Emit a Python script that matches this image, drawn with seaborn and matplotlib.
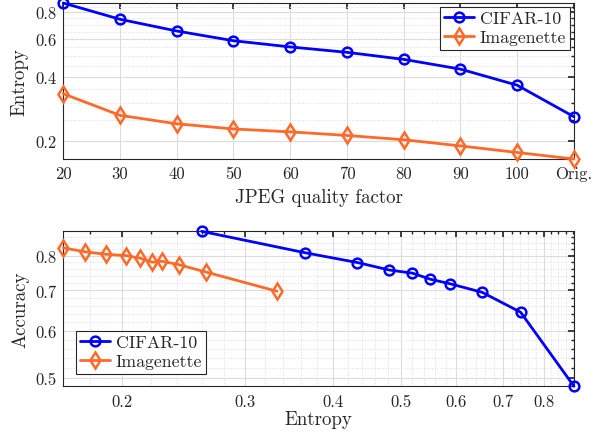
import numpy as np
import pandas as pd
import matplotlib
matplotlib.use("Agg")
import matplotlib.pyplot as plt
import seaborn as sns
from matplotlib.ticker import FixedLocator, NullFormatter, FuncFormatter

# ---- data ----
quality_labels = ["20", "30", "40", "50", "60", "70", "80", "90", "100", "Orig."]
cifar_entropy = [0.884, 0.742, 0.654, 0.589, 0.551, 0.520, 0.482, 0.434, 0.365, 0.260]
imnet_entropy = [0.333, 0.264, 0.241, 0.228, 0.221, 0.2126, 0.203, 0.190, 0.177, 0.165]
cifar_acc = [0.485, 0.644, 0.695, 0.718, 0.731, 0.748, 0.757, 0.779, 0.809, 0.878]
imnet_acc = [0.698, 0.751, 0.773, 0.783, 0.780, 0.792, 0.800, 0.804, 0.812, 0.824]

sns.set_theme(style="white")
plt.rcParams["font.family"] = ["cmr10", "DejaVu Serif"]
plt.rcParams["mathtext.fontset"] = "cm"
plt.rcParams["axes.unicode_minus"] = False
plt.rcParams["axes.formatter.use_mathtext"] = True

DARK = "#262626"
BLUE = "#0000FF"
ORANGE = "#FF6A2A"
GRID = "#dcdcdc"

fig = plt.figure(figsize=(6.08, 4.39), dpi=100)
ax1 = fig.add_axes([0.104, 0.6355, 0.840, 0.3554])
ax2 = fig.add_axes([0.104, 0.1178, 0.840, 0.3530])

qpos = np.arange(len(quality_labels))
df_top = pd.DataFrame({
    "q": np.concatenate([qpos, qpos]),
    "entropy": cifar_entropy + imnet_entropy,
    "ds": ["CIFAR-10"] * len(qpos) + ["Imagenette"] * len(qpos),
})
df_bot = pd.DataFrame({
    "entropy": cifar_entropy + imnet_entropy,
    "acc": cifar_acc + imnet_acc,
    "ds": ["CIFAR-10"] * len(qpos) + ["Imagenette"] * len(qpos),
})

styles = {"CIFAR-10": dict(color=BLUE, marker="o", ms=7),
          "Imagenette": dict(color=ORANGE, marker="d", ms=8)}


def draw(ax, df, x, y):
    for name, st in styles.items():
        sub = df[df["ds"] == name]
        sns.lineplot(data=sub, x=x, y=y, ax=ax, color=st["color"], marker=st["marker"],
                     markersize=st["ms"], markerfacecolor="none",
                     markeredgecolor=st["color"], markeredgewidth=1.8,
                     linewidth=2, label=name, clip_on=False, zorder=5)


def style_axes(ax):
    for s in ax.spines.values():
        s.set_color(DARK)
        s.set_linewidth(0.8)
    ax.tick_params(which="both", direction="in", top=True, right=True,
                   colors=DARK, labelcolor=DARK)
    ax.tick_params(which="major", length=4, labelsize=12, pad=5)
    ax.tick_params(which="minor", length=2)
    ax.grid(which="major", color=GRID, linewidth=0.8, linestyle="-")
    ax.grid(which="minor", color=GRID, linewidth=0.7, linestyle=":")
    ax.set_axisbelow(True)


def legend(ax, loc, pad):
    leg = ax.legend(loc=loc, fontsize=12.8, fancybox=False, edgecolor=DARK,
                    framealpha=1, handlelength=1.7, borderpad=0.25, labelspacing=0.2,
                    handletextpad=0.3, borderaxespad=pad)
    leg.get_frame().set_linewidth(0.8)


fmt = FuncFormatter(lambda v, p: f"{v:.1f}")

# ---- top ----
draw(ax1, df_top, "q", "entropy")
ax1.set_yscale("log")
ax1.set_xlim(0, len(quality_labels) - 1)
ax1.set_ylim(min(imnet_entropy), max(cifar_entropy))
ax1.xaxis.set_major_locator(FixedLocator(qpos))
ax1.set_xticklabels(quality_labels)
ax1.yaxis.set_major_locator(FixedLocator([0.2, 0.4, 0.6, 0.8]))
ax1.yaxis.set_major_formatter(fmt)
ax1.yaxis.set_minor_locator(FixedLocator(np.arange(0.15, 0.9, 0.05)))
ax1.yaxis.set_minor_formatter(NullFormatter())
style_axes(ax1)
ax1.grid(which="minor", axis="x", visible=False)
ax1.set_xlabel("JPEG quality factor", fontsize=13.6, color=DARK, labelpad=5)
ax1.set_ylabel("Entropy", fontsize=13.6, color=DARK, labelpad=5)
legend(ax1, "upper right", 0.2)

# ---- bottom ----
draw(ax2, df_bot, "entropy", "acc")
ax2.set_xscale("log")
ax2.set_yscale("log")
ax2.set_xlim(min(imnet_entropy), max(cifar_entropy))
ax2.set_ylim(min(cifar_acc), max(cifar_acc))
ax2.xaxis.set_major_locator(FixedLocator([0.2, 0.3, 0.4, 0.5, 0.6, 0.7, 0.8]))
ax2.xaxis.set_major_formatter(fmt)
ax2.xaxis.set_minor_locator(FixedLocator(np.arange(0.16, 0.9, 0.02)))
ax2.xaxis.set_minor_formatter(NullFormatter())
ax2.yaxis.set_major_locator(FixedLocator([0.5, 0.6, 0.7, 0.8]))
ax2.yaxis.set_major_formatter(fmt)
ax2.yaxis.set_minor_locator(FixedLocator(np.arange(0.48, 0.9, 0.02)))
ax2.yaxis.set_minor_formatter(NullFormatter())
style_axes(ax2)
ax2.set_xlabel("Entropy", fontsize=13.6, color=DARK, labelpad=1)
ax2.set_ylabel("Accuracy", fontsize=13.6, color=DARK, labelpad=4)
legend(ax2, "lower left", 0.7)

fig.savefig("out.png", dpi=100)
